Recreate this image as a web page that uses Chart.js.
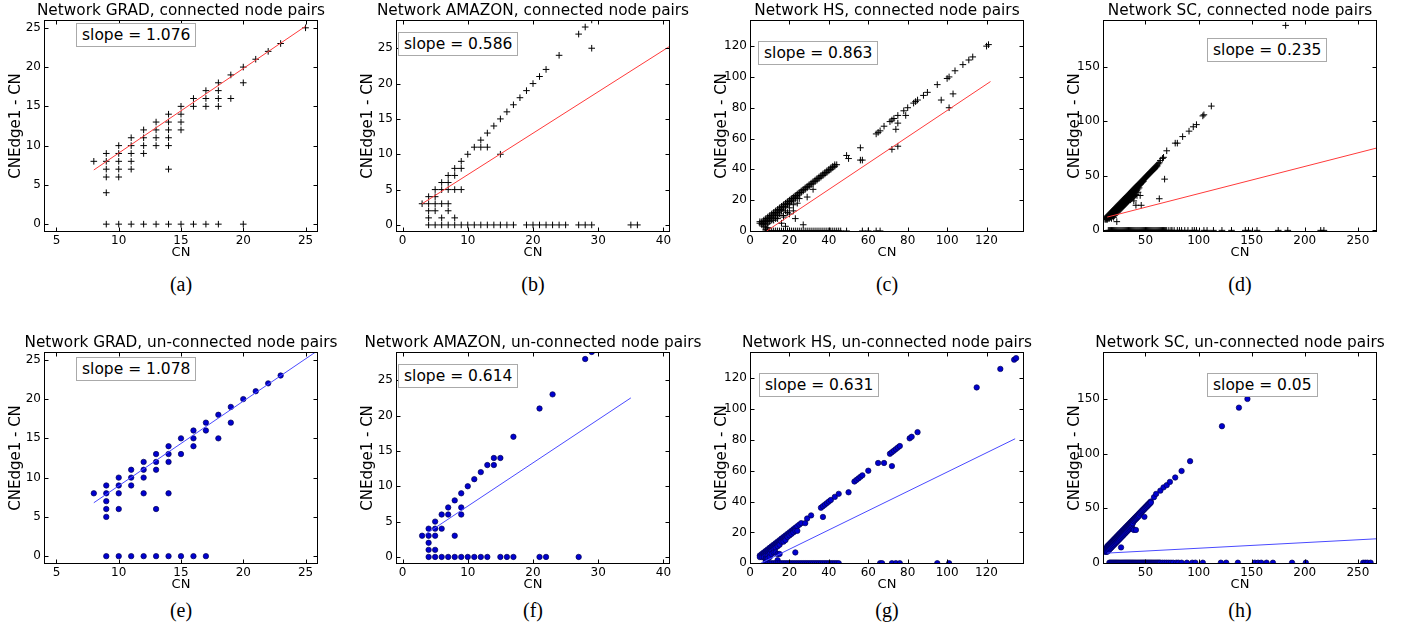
<!DOCTYPE html>
<html>
<head>
<meta charset="utf-8">
<script src="https://cdn.jsdelivr.net/npm/chart.js@4.4.1/dist/chart.umd.min.js"></script>
<style>
  html, body { margin: 0; padding: 0; background: #fff; }
  body { width: 1416px; height: 630px; position: relative; overflow: hidden; font-family: "DejaVu Sans", sans-serif; }
  canvas { position: absolute; }
  .slope { position: absolute; z-index: 2; background: #fff; border: 1px solid #aaa; color: #000;
           font-size: 15.5px; line-height: 22px; padding: 0 5px; white-space: nowrap; }
  .cap { position: absolute; width: 100px; margin-left: -50px; text-align: center; color: #000;
         font-family: "Liberation Serif", serif; font-size: 20px; line-height: 20px; }
</style>
</head>
<body>
<canvas id="pa" width="362" height="262" style="left:0px;top:0px"></canvas>
<canvas id="pb" width="362" height="262" style="left:352px;top:0px"></canvas>
<canvas id="pc" width="362" height="262" style="left:706px;top:0px"></canvas>
<canvas id="pd" width="362" height="262" style="left:1059px;top:0px"></canvas>
<canvas id="pe" width="362" height="262" style="left:0px;top:332px"></canvas>
<canvas id="pf" width="362" height="262" style="left:352px;top:332px"></canvas>
<canvas id="pg" width="362" height="262" style="left:706px;top:332px"></canvas>
<canvas id="ph" width="362" height="262" style="left:1059px;top:332px"></canvas>

<div class="slope" style="left:76px;top:23px">slope = 1.076</div>
<div class="slope" style="left:398px;top:32px">slope = 0.586</div>
<div class="slope" style="left:758px;top:41px">slope = 0.863</div>
<div class="slope" style="left:1207px;top:38px">slope = 0.235</div>
<div class="slope" style="left:76px;top:357px">slope = 1.078</div>
<div class="slope" style="left:398px;top:364px">slope = 0.614</div>
<div class="slope" style="left:759px;top:373px">slope = 0.631</div>
<div class="slope" style="left:1207px;top:373px">slope = 0.05</div>

<div class="cap" style="left:181px;top:274px">(a)</div>
<div class="cap" style="left:533px;top:274px">(b)</div>
<div class="cap" style="left:887px;top:274px">(c)</div>
<div class="cap" style="left:1240px;top:274px">(d)</div>
<div class="cap" style="left:181px;top:600px">(e)</div>
<div class="cap" style="left:533px;top:600px">(f)</div>
<div class="cap" style="left:887px;top:600px">(g)</div>
<div class="cap" style="left:1240px;top:600px">(h)</div>

<script>
// rows: [CN, CNEdge1-CN values at that CN ...]
const gradConnected = [
  [8, 8], [9, 9, 8, 7, 6, 4], [10, 10, 9, 8, 7, 6], [11, 11, 10, 9, 8, 7],
  [12, 12, 11, 10, 9], [13, 13, 12, 11, 10], [14, 14, 13, 12, 11, 10, 7],
  [15, 15, 14, 13, 12], [16, 16, 15], [17, 17, 16, 15], [18, 18, 17, 16, 15],
  [19, 19, 16], [20, 20, 18], [21, 21], [22, 22], [23, 23], [25, 25]
];
const gradConnectedZeros = [9, 10, 11, 12, 13, 14, 15, 16, 17, 18, 20];
const gradConnectedFit = [[8, 6.9], [25, 25.2]];

const amazonConnected = [
  [3, 3], [4, 4, 3, 2, 1], [5, 5, 4, 3, 2], [6, 6, 5, 3, 1], [7, 7, 6, 5, 3, 2],
  [8, 8, 7, 5, 1], [9, 9, 8, 5], [10, 10], [11, 11], [12, 12, 11], [13, 13, 11],
  [14, 14], [15, 15, 10], [16, 16], [17, 17], [18, 18], [19, 19], [20, 20],
  [21, 21], [22, 22], [24, 24], [27, 27], [28, 28], [29, 29, 25]
];
const amazonConnectedZeros = [4, 5, 6, 7, 8, 9, 10, 11, 12, 13, 14, 15, 16, 17, 19, 20, 21, 22, 23, 24, 25, 27, 28, 29, 35, 36];
const amazonConnectedFit = [[3, 3.0], [41, 25.3]];

const hsConnected = [
  [5, 6, 5], [6, 6, 5, 4], [7, 7, 6, 5, 3], [8, 8, 7, 6, 4, 2, 1], [9, 9, 8, 7, 5, 2],
  [10, 10, 9, 8, 6], [11, 11, 10, 9, 7], [12, 12, 11, 10, 7], [13, 13, 12, 11, 9, 8],
  [14, 14, 13, 12, 10, 8], [15, 15, 14, 13, 11], [16, 16, 15, 14, 13, 5],
  [17, 17, 16, 15, 10, 9], [18, 18, 17, 16, 13, 3], [19, 19, 18, 17, 12],
  [20, 20, 19, 18, 15, 11], [21, 21, 20, 19], [22, 22, 21, 20, 17, 13],
  [23, 23, 22, 21, 8], [24, 24, 23, 22, 18], [25, 25, 24, 21], [26, 26, 25],
  [27, 27, 26, 4], [28, 28, 27], [29, 29, 28, 22], [30, 30, 29], [31, 31, 30],
  [32, 32, 31, 27], [33, 33, 32], [34, 34, 33], [35, 35, 34], [36, 36, 35],
  [37, 37, 36], [38, 38, 37], [39, 39, 38], [40, 40, 39], [41, 41, 40],
  [42, 42, 41], [43, 43, 42], [44, 43], [49, 49], [50, 47], [56, 54, 46], [57, 46],
  [64, 63], [65, 64], [66, 65], [68, 68], [71, 71], [72, 72, 53], [73, 73],
  [74, 66], [75, 75, 70, 55], [78, 78], [79, 75], [80, 80], [83, 83], [84, 84],
  [85, 85], [88, 88], [90, 90], [95, 95], [97, 85], [100, 99], [101, 100, 80],
  [103, 89], [104, 104], [108, 108], [111, 111], [113, 113], [120, 120], [121, 121]
];
const hsConnectedZeros = [8, 9, 10, 11, 12, 13, 14, 15, 16, 17, 18, 19, 20, 21, 22, 23, 24, 25, 26, 27,
  28, 29, 30, 31, 32, 33, 34, 35, 36, 37, 38, 39, 40, 41, 42, 43, 44, 45, 46, 49, 57, 60, 64, 66];
const hsConnectedFit = [[8.5, 0], [122, 97]];

const scConnected = [
  [12, 11, 10], [13, 12, 11, 10], [14, 13, 12, 11, 10], [15, 14, 13, 12, 11],
  [16, 15, 14, 13, 12, 11], [17, 16, 15, 14, 13, 12], [18, 17, 16, 15, 14, 13, 11],
  [19, 18, 17, 16, 15, 13], [20, 19, 18, 17, 16, 14, 12], [21, 20, 19, 18, 16, 14],
  [22, 21, 20, 19, 17, 15], [23, 22, 21, 20, 18, 16, 8], [24, 23, 22, 21, 19, 17],
  [25, 24, 23, 22, 20, 18], [26, 25, 24, 23, 21, 19], [27, 26, 25, 24, 22, 20],
  [28, 27, 26, 25, 23, 21], [29, 28, 27, 26, 24, 22], [30, 29, 28, 27, 25, 23],
  [31, 30, 29, 28, 26, 24], [32, 31, 30, 29, 27, 25], [33, 32, 31, 30, 28, 26],
  [34, 33, 32, 31, 29, 27], [35, 34, 33, 32, 30, 28], [36, 35, 34, 33, 31, 28],
  [37, 36, 35, 34, 32, 29], [38, 37, 36, 35, 33, 30], [39, 38, 37, 36, 34, 31, 27],
  [40, 39, 38, 37, 35, 32], [41, 40, 39, 38, 36, 33, 23], [42, 41, 40, 39, 37, 32],
  [43, 42, 41, 40, 38, 35], [44, 43, 42, 41, 39], [45, 44, 43, 42, 32],
  [46, 45, 44, 43, 23], [47, 46, 45, 44], [48, 47, 46, 45], [49, 48, 47], [50, 49, 48],
  [51, 50, 49], [52, 51, 50], [53, 52, 51], [54, 53, 52], [55, 54, 53], [56, 55, 54],
  [57, 56, 55], [58, 57, 56], [59, 58, 57], [60, 59, 58], [61, 60, 59], [62, 61],
  [63, 62, 29], [64, 64], [66, 66], [67, 67], [68, 47], [70, 73], [78, 80], [80, 80],
  [85, 86], [91, 91], [95, 95], [98, 97], [104, 105], [105, 106], [112, 114], [182, 188]
];
const scConnectedZeros = [15, 16, 17, 18, 19, 20, 21, 22, 23, 24, 25, 26, 27, 28, 29, 30, 31, 32, 33, 34,
  35, 36, 37, 38, 39, 40, 41, 42, 43, 44, 45, 46, 47, 48, 49, 50, 51, 52, 53, 54, 55, 56, 57, 58, 59, 60,
  61, 62, 63, 64, 65, 66, 67, 68, 69, 70, 72, 74, 75, 77, 80, 82, 84, 87, 90, 94, 96, 98, 105, 108, 114,
  122, 131, 144, 147, 155, 175, 184, 215, 218];
const scConnectedFit = [[14, 12.2], [268, 75.6]];

const gradUnconnected = [
  [8, 8], [9, 9, 8, 7, 6, 5], [10, 10, 9, 8, 6], [11, 11, 10, 9], [12, 12, 11, 10, 8],
  [13, 13, 12, 11, 6], [14, 14, 13, 12, 8], [15, 15, 13], [16, 16, 15, 14], [17, 17, 16],
  [18, 18, 15], [19, 19, 17], [20, 20], [21, 21], [22, 22], [23, 23]
];
const gradUnconnectedZeros = [9, 10, 11, 12, 13, 14, 15, 16, 17];
const gradUnconnectedFit = [[8, 6.8], [26, 26.2]];

const amazonUnconnected = [
  [3, 3], [4, 4, 3, 2, 1], [5, 5, 4, 3, 1], [6, 6, 4], [7, 7, 6], [8, 8, 3], [9, 9, 7, 6],
  [10, 10], [11, 11], [12, 12], [13, 13], [14, 14, 13], [15, 14], [17, 17], [21, 21],
  [23, 23], [28, 28], [29, 29]
];
const amazonUnconnectedZeros = [4, 5, 6, 7, 8, 9, 10, 11, 12, 13, 15, 16, 17, 21, 22, 27];
const amazonUnconnectedFit = [[3.5, 3.2], [35, 22.5]];

const hsUnconnected = [
  [5, 5, 4], [6, 6, 5, 4], [7, 7, 6, 5, 4], [8, 8, 7, 6, 5, 3, 2, 1], [9, 9, 8, 7, 6, 5, 3],
  [10, 10, 9, 8, 7, 6, 4], [11, 11, 10, 9, 8, 6], [12, 12, 11, 10, 9, 7], [13, 13, 12, 11, 10, 7],
  [14, 14, 13, 12, 11, 6, 2], [15, 15, 14, 13, 12, 6], [16, 16, 15, 14], [17, 17, 16, 15, 14],
  [18, 18, 17, 16, 15], [19, 19, 18, 17], [20, 20, 19, 18], [21, 21, 20, 19], [22, 22, 21, 20],
  [23, 23, 22, 21, 7], [24, 24, 21], [25, 25], [26, 26], [28, 26], [29, 29], [31, 31],
  [36, 36], [37, 37, 30], [38, 38], [39, 39], [40, 40], [41, 41], [43, 43], [45, 45], [50, 46],
  [53, 53], [54, 54], [55, 55], [56, 56], [57, 57], [60, 60], [65, 65], [68, 65], [71, 71],
  [72, 72, 63], [73, 73], [74, 74], [75, 75], [76, 76], [81, 81], [82, 82], [85, 85],
  [115, 114], [127, 126], [134, 132], [135, 133]
];
const hsUnconnectedZeros = [8, 9, 10, 11, 12, 13, 14, 15, 16, 17, 18, 19, 20, 21, 22, 23, 24, 25, 26, 27,
  28, 29, 30, 31, 32, 33, 34, 35, 36, 37, 38, 39, 40, 41, 42, 43, 44, 45, 66, 67, 72, 74, 76, 95, 101];
const hsUnconnectedFit = [[5.5, 0], [134.5, 80.7]];

const scUnconnected = [
  [12, 12, 11, 10], [13, 13, 12, 11, 10], [14, 15, 14, 13, 12, 10], [15, 16, 15, 14, 13, 11],
  [16, 17, 16, 15, 14, 12], [17, 18, 17, 16, 15, 13], [18, 19, 18, 17, 16, 14],
  [19, 20, 19, 18, 17, 15], [20, 21, 20, 19, 18, 16], [21, 22, 21, 20, 19, 17],
  [22, 23, 22, 21, 20, 18], [23, 24, 23, 22, 21, 19], [24, 25, 24, 23, 22, 20],
  [25, 26, 25, 24, 23, 21], [26, 27, 26, 25, 24, 22], [27, 28, 27, 26, 25, 23, 14],
  [28, 29, 28, 27, 26, 24], [29, 30, 29, 28, 27, 25], [30, 31, 30, 29, 28, 26],
  [31, 32, 31, 30, 29, 27], [32, 33, 32, 31, 30, 28], [33, 34, 33, 32, 31, 29],
  [34, 35, 34, 33, 32, 30], [35, 36, 35, 34, 33, 31], [36, 37, 36, 35, 34, 32],
  [37, 38, 37, 36, 35, 33], [38, 39, 38, 37, 36, 31], [39, 40, 39, 38, 30], [40, 41, 40, 39],
  [41, 42, 41, 40, 30], [42, 43, 42, 41], [43, 44, 43, 42], [44, 45, 44, 43], [45, 46, 45],
  [46, 47, 46], [47, 48, 47], [48, 49, 48], [49, 50, 49, 42], [50, 51, 50], [51, 52, 51],
  [52, 53, 52], [53, 54, 53], [54, 55, 54], [55, 56, 55], [58, 60], [60, 63], [64, 66],
  [67, 69], [70, 71], [73, 74], [78, 78], [84, 84], [92, 93], [122, 125], [138, 142], [146, 150]
];
const scUnconnectedZeros = [16, 17, 18, 19, 20, 21, 22, 23, 24, 25, 26, 27, 28, 29, 30, 31, 32, 33, 34, 35,
  36, 37, 38, 39, 40, 41, 42, 43, 44, 45, 46, 47, 48, 49, 50, 51, 52, 53, 54, 55, 56, 57, 58, 59, 60, 61,
  62, 63, 64, 66, 68, 70, 72, 74, 76, 79, 81, 84, 89, 94, 97, 104, 121, 126, 137, 153, 156, 159, 164,
  170, 188, 201, 255, 257, 259, 262];
const scUnconnectedFit = [[14, 8.8], [268, 21.9]];

// axis limits and tick labels
const gradXRange = [4, 26], gradYRange = [-1, 26];
const gradXTicks = [5, 10, 15, 20, 25], gradYTicks = [0, 5, 10, 15, 20, 25];
const amazonXRange = [-1, 41], amazonYRange = [-1, 29];
const amazonXTicks = [0, 10, 20, 30, 40], amazonYTicks = [0, 5, 10, 15, 20, 25];
const hsXRange = [0, 139], hsConnectedYRange = [-0.7, 137], hsUnconnectedYRange = [-0.5, 137];
const hsXTicks = [0, 20, 40, 60, 80, 100, 120], hsYTicks = [0, 20, 40, 60, 80, 100, 120];
const scXRange = [10, 268], scConnectedYRange = [-1.5, 193], scUnconnectedYRange = [-1.2, 193];
const scXTicks = [50, 100, 150, 200, 250], scYTicks = [0, 50, 100, 150];

const FONT = 'DejaVu Sans';

function toPoints(rows, zeros) {
  const pts = [];
  rows.forEach(r => r.slice(1).forEach(y => pts.push({ x: r[0], y: y })));
  zeros.forEach(x => pts.push({ x: x, y: 0 }));
  return pts;
}

// box round the plot with inward ticks on all four sides
const frame = {
  id: 'frame',
  afterDatasetsDraw(chart) {
    const { ctx, chartArea: a, scales: { x, y } } = chart;
    const L = Math.round(a.left) + 0.5, R = Math.round(a.right) - 0.5;
    const T = Math.round(a.top) + 0.5, B = Math.round(a.bottom) - 0.5;
    ctx.save();
    ctx.strokeStyle = '#000';
    ctx.lineWidth = 1;
    ctx.beginPath();
    x.ticks.forEach(t => {
      const p = Math.round(x.getPixelForValue(t.value)) + 0.5;
      ctx.moveTo(p, B); ctx.lineTo(p, B - 4);
      ctx.moveTo(p, T); ctx.lineTo(p, T + 4);
    });
    y.ticks.forEach(t => {
      const p = Math.round(y.getPixelForValue(t.value)) + 0.5;
      ctx.moveTo(L, p); ctx.lineTo(L + 4, p);
      ctx.moveTo(R, p); ctx.lineTo(R - 4, p);
    });
    ctx.stroke();
    ctx.strokeRect(L, T, R - L, B - T);
    ctx.restore();
  }
};

function makePanel(id, title, rows, zeros, fit, xr, yr, xt, yt, connected) {
  const pts = toPoints(rows, zeros);
  return new Chart(document.getElementById(id), {
    type: 'scatter',
    data: {
      datasets: [
        {
          data: fit.map(p => ({ x: p[0], y: p[1] })),
          showLine: true,
          pointRadius: 0,
          borderWidth: 1,
          borderColor: connected ? '#ff3a3a' : '#4a4aff',
          clip: 0,
          order: 0
        },
        {
          data: pts,
          pointStyle: connected ? 'cross' : 'circle',
          pointRadius: connected ? 3.3 : 2.7,
          borderWidth: connected ? 1 : 0.7,
          borderColor: connected ? '#000' : '#000050',
          backgroundColor: connected ? '#000' : '#0000d0',
          clip: 0,
          order: 1
        }
      ]
    },
    options: {
      responsive: false,
      animation: false,
      events: [],
      layout: { padding: 0 },
      plugins: {
        legend: { display: false },
        tooltip: { enabled: false },
        title: {
          display: true, text: title, color: '#000',
          font: { family: FONT, size: 15.3, weight: 'normal' },
          padding: { top: 1.6, bottom: 0 }
        }
      },
      scales: {
        x: {
          type: 'linear', min: xr[0], max: xr[1],
          afterBuildTicks: s => { s.ticks = xt.map(v => ({ value: v })); },
          afterFit: s => { s.height = 30; },
          grid: { display: false, drawTicks: false },
          border: { display: false },
          ticks: { color: '#000', font: { family: FONT, size: 12 }, padding: 2, autoSkip: false, maxRotation: 0 },
          title: { display: true, text: 'CN', color: '#000', font: { family: FONT, size: 13 }, padding: { top: 0, bottom: 2 } }
        },
        y: {
          type: 'linear', min: yr[0], max: yr[1],
          afterBuildTicks: s => { s.ticks = yt.map(v => ({ value: v })); },
          afterFit: s => { s.width = 44; },
          grid: { display: false, drawTicks: false },
          border: { display: false },
          ticks: { color: '#000', font: { family: FONT, size: 12 }, padding: 3, autoSkip: false },
          title: { display: true, text: 'CNEdge1 - CN', color: '#000', font: { family: FONT, size: 15 }, padding: { top: 7, bottom: 0 } }
        },
        // empty right-hand axis so the plot (and its title) sits centred in the canvas
        yr: {
          type: 'linear', position: 'right', min: 0, max: 1,
          afterFit: s => { s.width = 44; },
          grid: { display: false, drawTicks: false },
          border: { display: false },
          ticks: { display: false }
        }
      }
    },
    plugins: [frame]
  });
}

makePanel('pa', 'Network GRAD, connected node pairs', gradConnected, gradConnectedZeros, gradConnectedFit,
  gradXRange, gradYRange, gradXTicks, gradYTicks, true);
makePanel('pb', 'Network AMAZON, connected node pairs', amazonConnected, amazonConnectedZeros, amazonConnectedFit,
  amazonXRange, amazonYRange, amazonXTicks, amazonYTicks, true);
makePanel('pc', 'Network HS, connected node pairs', hsConnected, hsConnectedZeros, hsConnectedFit,
  hsXRange, hsConnectedYRange, hsXTicks, hsYTicks, true);
makePanel('pd', 'Network SC, connected node pairs', scConnected, scConnectedZeros, scConnectedFit,
  scXRange, scConnectedYRange, scXTicks, scYTicks, true);
makePanel('pe', 'Network GRAD, un-connected node pairs', gradUnconnected, gradUnconnectedZeros, gradUnconnectedFit,
  gradXRange, gradYRange, gradXTicks, gradYTicks, false);
makePanel('pf', 'Network AMAZON, un-connected node pairs', amazonUnconnected, amazonUnconnectedZeros, amazonUnconnectedFit,
  amazonXRange, amazonYRange, amazonXTicks, amazonYTicks, false);
makePanel('pg', 'Network HS, un-connected node pairs', hsUnconnected, hsUnconnectedZeros, hsUnconnectedFit,
  hsXRange, hsUnconnectedYRange, hsXTicks, hsYTicks, false);
makePanel('ph', 'Network SC, un-connected node pairs', scUnconnected, scUnconnectedZeros, scUnconnectedFit,
  scXRange, scUnconnectedYRange, scXTicks, scYTicks, false);
</script>
</body>
</html>
